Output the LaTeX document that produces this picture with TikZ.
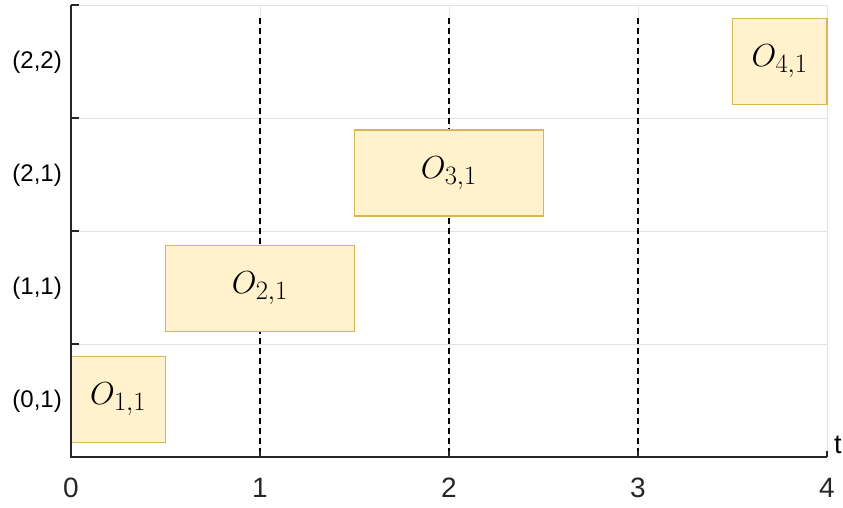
\documentclass[tikz,border=0pt]{standalone}
\usepackage{fontspec}
\setmainfont{Liberation Sans}
\definecolor{boxfill}{HTML}{FFF2CC}
\definecolor{boxdraw}{HTML}{D6B656}
\definecolor{gridc}{HTML}{E3E3E3}
\definecolor{axisc}{HTML}{262626}
\newcommand{\oplab}[1]{\scalebox{1.28}{$O_{#1}$}}
\begin{document}
\begin{tikzpicture}[x=1pt,y=-1pt,
  opbox/.style={draw=boxdraw,fill=boxfill,line width=1.6pt,minimum height=86pt,inner sep=0pt,font=\fontsize{28}{30}\selectfont},
  gridline/.style={draw=gridc,line width=1pt},
  sepline/.style={draw=black,line width=1.3pt,dash pattern=on 6pt off 4pt},
  axisline/.style={draw=axisc,line width=1.6pt},
  tickline/.style={draw=axisc,line width=1.3pt},
  ylab/.style={anchor=east,inner sep=0pt,font=\fontsize{24}{26}\selectfont,text=black},
  xlab/.style={inner sep=0pt,font=\fontsize{28}{30}\selectfont,text=axisc}]
\useasboundingbox (0,0) rectangle (843,507);
% grid
\foreach \y in {5,118,231,344} \draw[gridline] (71,\y) -- (827,\y);
\foreach \x in {260,449,638,827} \draw[gridline] (\x,5) -- (\x,457);
% dashed separators
\foreach \x in {260,449,638} \draw[sepline] (\x,18) -- (\x,457);
% boxes
\node[opbox,minimum width=94.5pt] (o11) at (118.25,399.5) {\oplab{1,1}};
\node[opbox,minimum width=189pt] (o21) at (260,288.5) {\oplab{2,1}};
\node[opbox,minimum width=189pt] (o31) at (449,173) {\oplab{3,1}};
\node[opbox,minimum width=94.5pt] (o41) at (779.75,61.5) {\oplab{4,1}};
% axes
\draw[axisline] (71,5) -- (71,457) -- (827,457);
\foreach \y in {5,118,231,344} \draw[tickline] (71,\y) -- (79,\y);
\foreach \x in {260,449,638,827} \draw[tickline] (\x,457) -- (\x,451);
% labels
\node[ylab] (l22) at (62,62) {(2,2)};
\node[ylab] (l21) at (62,175) {(2,1)};
\node[ylab] (l11) at (62,288) {(1,1)};
\node[ylab] (l01) at (62,401) {(0,1)};
\node[xlab] (x0) at (71,488) {0};
\node[xlab] (x1) at (260,488) {1};
\node[xlab] (x2) at (449,488) {2};
\node[xlab] (x3) at (638,488) {3};
\node[xlab] (x4) at (827,488) {4};
\node[anchor=west,inner sep=0pt,font=\fontsize{27}{29}\selectfont,text=black] (tl) at (834,445) {t};
\end{tikzpicture}
\end{document}
